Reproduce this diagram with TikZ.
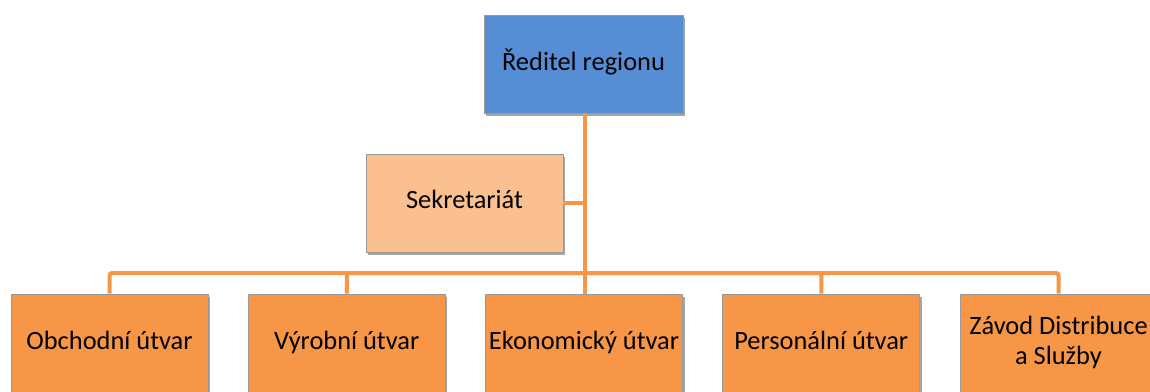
\documentclass[tikz,border=0pt]{standalone}
\usepackage{fontspec}
\setmainfont{Carlito}
\usetikzlibrary{shadows}
\definecolor{topblue}{HTML}{558ED5}
\definecolor{sekfill}{HTML}{FAC090}
\definecolor{orangefill}{HTML}{F79646}
\definecolor{lineorange}{HTML}{F79646}
\tikzset{
  box/.style={rectangle, draw=black!40, line width=0.6pt, minimum width=147.75pt, minimum height=73.5pt,
    inner sep=1pt, align=center, font=\fontsize{19.8}{22.5}\selectfont,
    drop shadow={shadow xshift=1.5pt, shadow yshift=-2.2pt, opacity=0.35, fill=black}},
  conn/.style={draw=lineorange, line width=3pt, rounded corners=2pt}
}
\begin{document}
\begin{tikzpicture}[x=0.75pt, y=-0.75pt]
\useasboundingbox (0,0) rectangle (1150,392);
\coordinate (j) at (584.5,273);
\node[box, fill=topblue, minimum width=149.25pt] (top) at (583.5,64) {\strut Ředitel regionu};
\node[box, fill=sekfill] (sek) at (464.5,203) {\strut Sekretariát};
\node[box, fill=orangefill] (b1) at (109.5,343) {\strut Obchodní útvar};
\node[box, fill=orangefill] (b2) at (346.75,343) {\strut Výrobní útvar};
\node[box, fill=orangefill] (b3) at (584,343) {\strut Ekonomický útvar};
\node[box, fill=orangefill] (b4) at (821.25,343) {\strut Personální útvar};
\node[box, fill=orangefill] (b5) at (1058.5,343) {\strut Závod Distribuce\\\strut a Služby};
\draw[conn] (top.south -| j) -- (j);
\draw[conn] (sek.east) -- (sek.east -| j);
\draw[conn] (j) -| (b1.north);
\draw[conn] (j) -| (b2.north);
\draw[conn] (j) -- (b3.north -| j);
\draw[conn] (j) -| (b4.north);
\draw[conn] (j) -| (b5.north);
\end{tikzpicture}
\end{document}
